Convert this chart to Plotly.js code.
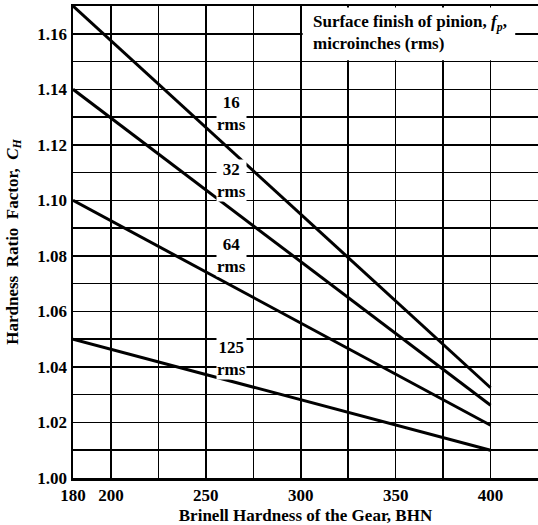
<!DOCTYPE html>
<html><head><meta charset="utf-8">
<script src="https://cdn.plot.ly/plotly-3.0.1.min.js"></script>
<style>html,body{margin:0;padding:0;background:#fff}#chart{width:538px;height:525px}</style>
</head><body><div id="chart"></div>
<script>
// Data
const hardness = [180, 400];
const series = [
  {name: "16 rms",  values: [1.170, 1.0325]},
  {name: "32 rms",  values: [1.140, 1.0262]},
  {name: "64 rms",  values: [1.100, 1.0190]},
  {name: "125 rms", values: [1.050, 1.0100]}
];
const labelText = ["16<br>rms", "32<br>rms", "64<br>rms", "125<br>rms"];
const labelX = [263.5, 263.5, 263.5, 263.5];
const labelY = [1.1313, 1.1073, 1.0800, 1.0430];
const xTickVals = [180, 200, 225, 250, 275, 300, 325, 350, 375, 400, 425];
const xTickText = ["180", "200", "", "250", "", "300", "", "350", "", "400", ""];
const yTickVals = [1.00,1.01,1.02,1.03,1.04,1.05,1.06,1.07,1.08,1.09,1.10,1.11,1.12,1.13,1.14,1.15,1.16,1.17];
const yTickText = ["1.00","","1.02","","1.04","","1.06","","1.08","","1.10","","1.12","","1.14","","1.16",""];

const FONT = "Liberation Serif, Times New Roman, serif";

const traces = series.map(s => ({
  x: hardness, y: s.values, type: "scatter", mode: "lines",
  name: s.name, line: {color: "#000", width: 3}, hoverinfo: "skip"
}));

const annotations = labelText.map((t, i) => ({
  x: labelX[i], y: labelY[i], xref: "x", yref: "y", text: "<b>" + t + "</b>",
  showarrow: false, bgcolor: "#fff", borderpad: 0,
  font: {family: FONT, size: 17, color: "#000"}
}));
annotations.push({
  x: 305.4, y: 1.1603, xref: "x", yref: "y", xanchor: "left", yanchor: "middle",
  align: "left", showarrow: false,
  text: "<b>Surface finish of pinion, <i>f<sub>p</sub></i>,<br>microinches (rms)</b>",
  font: {family: FONT, size: 17, color: "#000"}
});

const layout = {
  width: 538, height: 525,
  margin: {l: 73, r: 0, t: 6, b: 47},
  paper_bgcolor: "#fff", plot_bgcolor: "#fff",
  showlegend: false,
  font: {family: FONT, color: "#000"},
  xaxis: {
    range: [180, 425], tickmode: "array", tickvals: xTickVals, ticktext: xTickText,
    showgrid: true, gridcolor: "#000", gridwidth: 1.5,
    showline: true, linecolor: "#000", linewidth: 2.5, mirror: true,
    zeroline: false, ticks: "", ticklen: 0,
    tickfont: {family: FONT, size: 17, color: "#000", weight: "bold"},
    title: {text: "<b>Brinell Hardness of the Gear, BHN</b>", font: {family: FONT, size: 17, color: "#000"}, standoff: 6}
  },
  yaxis: {
    range: [1.00, 1.17], tickmode: "array", tickvals: yTickVals, ticktext: yTickText,
    showgrid: true, gridcolor: "#000", gridwidth: 1.5,
    showline: true, linecolor: "#000", linewidth: 2.5,
    zeroline: false, ticks: "", ticklen: 0,
    tickfont: {family: FONT, size: 17, color: "#000", weight: "bold"},
    title: {text: "<b>Hardness  Ratio  Factor,  <i>C<sub>H</sub></i></b>", font: {family: FONT, size: 17, color: "#000"}, standoff: 15}
  },
  shapes: [{
    type: "rect", xref: "x", yref: "y", x0: 301, x1: 413, y0: 1.1505, y1: 1.1695,
    fillcolor: "#fff", line: {width: 0}, layer: "between"
  }],
  annotations: annotations
};

Plotly.newPlot("chart", traces, layout, {displayModeBar: false, staticPlot: true});
</script></body></html>
